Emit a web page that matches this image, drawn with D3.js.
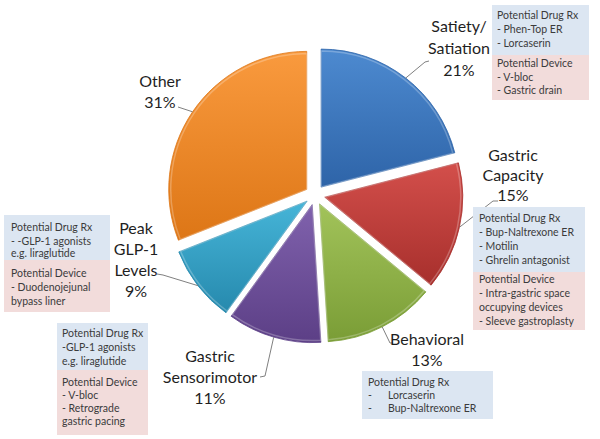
<!DOCTYPE html>
<html>
<head>
<meta charset="utf-8">
<script src="https://cdn.jsdelivr.net/npm/d3@7"></script>
<style>
  html, body { margin: 0; padding: 0; background: #ffffff; }
  svg { display: block; }
</style>
</head>
<body>
<script>
// ---------- data ----------
const categories = ["Satiety/ Satiation", "Gastric Capacity", "Behavioral", "Gastric Sensorimotor", "Peak GLP-1 Levels", "Other"];
const labelLines = [["Satiety/", "Satiation"], ["Gastric", "Capacity"], ["Behavioral"], ["Gastric", "Sensorimotor"], ["Peak", "GLP-1", "Levels"], ["Other"]];
const values = [21, 15, 13, 11, 9, 31];
const colorsTop = ["#4d8ad0", "#d34f4b", "#a2c35a", "#8062ad", "#46b5d8", "#f99a3e"];
const colorsBottom = ["#2e64a8", "#a72f2c", "#7a9d36", "#5c3f86", "#2689ad", "#dd7616"];

const drugBoxSatiety = ["Potential Drug Rx", "- Phen-Top ER", "- Lorcaserin"];
const deviceBoxSatiety = ["Potential Device", "- V-bloc", "- Gastric drain"];
const drugBoxCapacity = ["Potential Drug Rx", "- Bup-Naltrexone ER", "- Motilin", "- Ghrelin antagonist"];
const deviceBoxCapacity = ["Potential Device", "- Intra-gastric space", "occupying devices", "- Sleeve gastroplasty"];
const drugBoxGLP = ["Potential Drug Rx", "- -GLP-1 agonists", "e.g. liraglutide"];
const deviceBoxGLP = ["Potential Device", "- Duodenojejunal", "bypass liner"];
const drugBoxSensori = ["Potential Drug Rx", "-GLP-1 agonists", "e.g. liraglutide"];
const deviceBoxSensori = ["Potential Device", "- V-bloc", "- Retrograde", "gastric pacing"];
const drugBoxBehavioral = ["Potential Drug Rx"];
const drugBoxBehavioralItems = ["Lorcaserin", "Bup-Naltrexone ER"];

// ---------- layout ----------
const W = 600, H = 439;
const cx = 315, cy = 195, R = 138, explode = 10;
const FONT = "Lato, 'Open Sans', sans-serif";

const svg = d3.select("body").append("svg").attr("width", W).attr("height", H);
const defs = svg.append("defs");

const pie = d3.pie().sort(null).value(d => d)(values);
const arc = d3.arc().innerRadius(0).outerRadius(R);
const arcMid = d3.arc().innerRadius(R).outerRadius(R);

values.forEach((v, i) => {
  const g = defs.append("linearGradient").attr("id", "g" + i)
    .attr("x1", 0).attr("y1", 0).attr("x2", 0).attr("y2", 1);
  g.append("stop").attr("offset", "0%").attr("stop-color", colorsTop[i]);
  g.append("stop").attr("offset", "100%").attr("stop-color", colorsBottom[i]);
});

function offsetOf(d) {
  const a = (d.startAngle + d.endAngle) / 2;
  return [cx + explode * Math.sin(a), cy - explode * Math.cos(a)];
}

const slices = svg.append("g");
pie.forEach((d, i) => {
  const [ox, oy] = offsetOf(d);
  const g = slices.append("g").attr("transform", `translate(${ox},${oy})`);
  g.append("path").attr("d", arc(d)).attr("fill", `url(#g${i})`)
    .attr("stroke", colorsBottom[i]).attr("stroke-width", 0.8);
  // bevel highlight
  g.append("path").attr("d", d3.arc().innerRadius(0).outerRadius(R - 2)(d))
    .attr("fill", "none").attr("stroke", "#ffffff").attr("stroke-opacity", 0.25).attr("stroke-width", 1.5);
});

// ---------- labels ----------
const labelLayout = [
  { x: 459, y: 32, dy: 22, leader: [[425, 62], [429, 61]] },
  { x: 513, y: 161, dy: 20, leader: [[493, 201], [498, 201]] },
  { x: 427, y: 345, dy: 21, leader: [[390, 343], [393, 343]] },
  { x: 210, y: 362, dy: 21, leader: [[265, 376], [260, 377]] },
  { x: 136, y: 234, dy: 21, leader: [[163, 275], [157, 274]] },
  { x: 160, y: 87, dy: 21, leader: [[178, 107]] }
];

const labels = svg.append("g");
pie.forEach((d, i) => {
  const L = labelLayout[i];
  const [ox, oy] = offsetOf(d);
  const c = arcMid.centroid(d);
  const pts = [[ox + c[0], oy + c[1]]].concat(L.leader);
  labels.append("path").attr("d", d3.line()(pts))
    .attr("fill", "none").attr("stroke", "#808080").attr("stroke-width", 1);
  const lines = labelLines[i].concat([values[i] + "%"]);
  const t = labels.append("text").attr("text-anchor", "middle")
    .attr("font-family", FONT).attr("font-size", 16).attr("fill", "#1f1f1f");
  lines.forEach((s, k) => {
    t.append("tspan").attr("x", L.x).attr("y", L.y + k * L.dy).text(s);
  });
});

// ---------- boxes ----------
const BLUE = "#dce6f2", PINK = "#f2dcdb", TXT = "#3b3b3b";
function box(x, y, w, h, fill, lines, tx, baselines) {
  svg.append("rect").attr("x", x).attr("y", y).attr("width", w).attr("height", h).attr("fill", fill);
  const t = svg.append("text").attr("font-family", FONT).attr("font-size", 10.5).attr("fill", TXT);
  lines.forEach((s, k) => t.append("tspan").attr("x", tx).attr("y", baselines[k]).text(s));
}
box(492, 5, 97, 50, BLUE, drugBoxSatiety, 497, [19, 33, 47]);
box(492, 55, 97, 45, PINK, deviceBoxSatiety, 497, [67, 81, 94]);
box(473, 207, 112, 65, BLUE, drugBoxCapacity, 479, [222, 236, 250, 264]);
box(473, 272, 112, 58, PINK, deviceBoxCapacity, 479, [283, 297, 311, 325]);
box(4, 215, 106, 45, BLUE, drugBoxGLP, 11, [231, 245, 257]);
box(4, 260, 106, 52, PINK, deviceBoxGLP, 11, [277, 291, 305]);
box(57, 323, 91, 47, BLUE, drugBoxSensori, 62, [337, 351, 365]);
box(57, 370, 91, 65, PINK, deviceBoxSensori, 62, [386, 399, 412, 425]);
box(362, 371, 131, 48, BLUE, drugBoxBehavioral, 368, [386]);
const tb = svg.append("text").attr("font-family", FONT).attr("font-size", 10.5).attr("fill", TXT);
drugBoxBehavioralItems.forEach((s, k) => {
  tb.append("tspan").attr("x", 368).attr("y", 399 + k * 13).text("-");
  tb.append("tspan").attr("x", 388).attr("y", 399 + k * 13).text(s);
});
</script>
</body>
</html>
